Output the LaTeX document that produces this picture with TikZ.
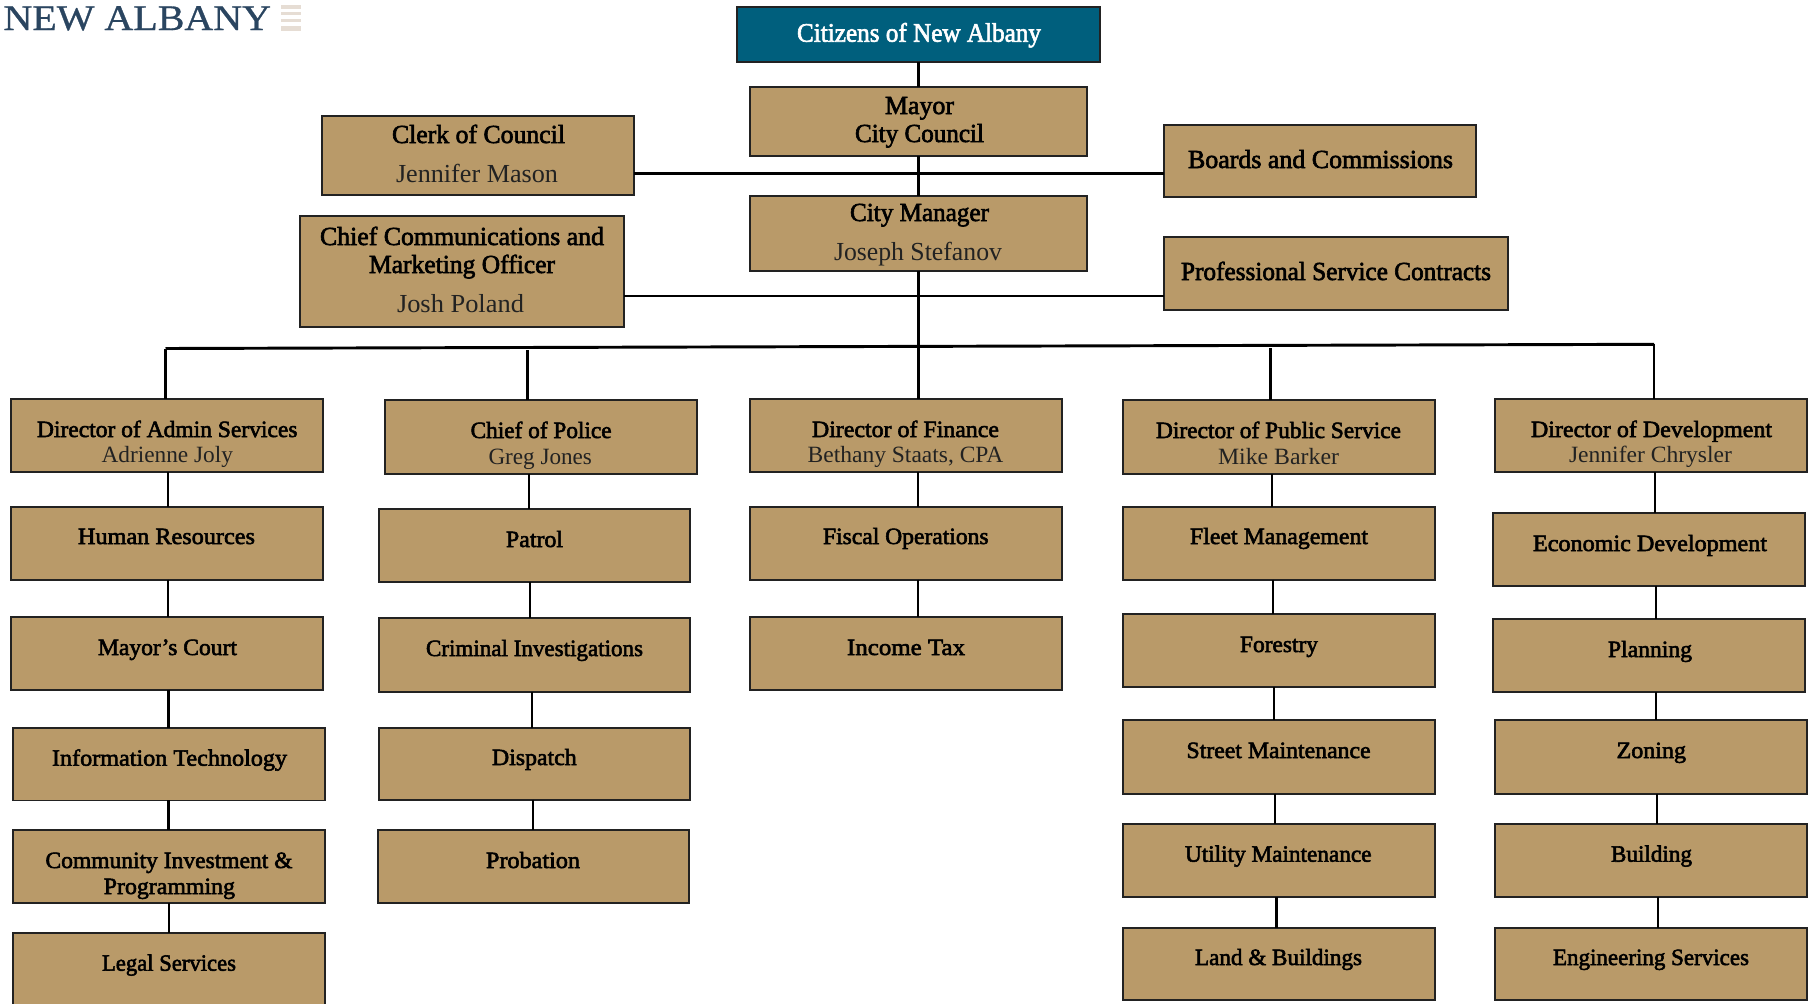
\documentclass[tikz,border=0pt]{standalone}
\usepackage{fontspec}
\usepackage{graphicx}
\setmainfont{Liberation Serif}
\newfontfamily\fatserif[FakeBold=2.4]{Liberation Serif}
\newfontfamily\logoserif[FakeBold=0.8]{Liberation Serif}
\definecolor{tan}{HTML}{B99A69}
\definecolor{teal}{HTML}{005F7D}
\definecolor{edge}{HTML}{222222}
\definecolor{navy}{HTML}{2A4560}
\definecolor{stripe}{HTML}{E6DDD4}
\tikzset{
  x=0.75pt,y=-0.75pt,
  orgbox/.style={draw=edge,fill=tan,line width=1.4pt,inner sep=0pt,outer sep=0pt,rectangle},
  topbox/.style={orgbox,fill=teal},
  plainbox/.style={inner sep=0pt,outer sep=0pt,rectangle},
  link/.style={draw=black,line width=1.6pt},
  heavy/.style={draw=black,line width=2.2pt}
}
% box by its corners in pixels
\newcommand\bx[7][orgbox]{%
  \pgfmathsetmacro\bcx{(#3+#5)/2}%
  \pgfmathsetmacro\bcy{(#4+#6)/2}%
  \pgfmathsetmacro\bw{(#5-#3)*0.75-1.2}%
  \pgfmathsetmacro\bh{(#6-#4)*0.75-0.4}%
  \node[#1,minimum width=\bw pt,minimum height=\bh pt] (#2) at (\bcx,\bcy) {#7};}
% a line of text: left, right, baseline in pixels
\newcommand\Ln[4]{%
  \pgfmathsetmacro\tw{(#2-#1)*0.75}%
  \pgfmathsetmacro\tl{(#1-\bcx)*0.75}%
  \pgfmathsetmacro\tdy{(\bcy-#3)*0.75}%
  \smash{\makebox[0pt][l]{\hspace*{\tl pt}\raisebox{\tdy pt}{\resizebox{\tw pt}{\height}{#4}}}}}
\newcommand\Tb[1]{{\fontsize{17.5}{20}\fatserif\color{black}#1}}
\newcommand\Tt[1]{{\fontsize{19.5}{22}\fatserif\color{black}#1}}
\newcommand\Nb[1]{{\fontsize{17.5}{20}\selectfont\color{edge}#1}}
\newcommand\Nt[1]{{\fontsize{19.5}{22}\selectfont\color{edge}#1}}
% connector at a given x between two boxes
\newcommand\vlink[3]{\draw[link] (#1.south -| #3,0) -- (#2.north -| #3,0);}
\begin{document}
\begin{tikzpicture}
\useasboundingbox (0,0) rectangle (1816,1003);
\clip (0,0) rectangle (1816,1003);
% logo
\bx[plainbox]{logo}{3}{6}{271}{30}{\Ln{3.5}{271}{30}{{\fontsize{27}{30}\logoserif\color{navy}NEW ALBANY}}}
\fill[stripe] (281,5) rectangle (301,8.5);
\fill[stripe] (281,11.5) rectangle (301,15);
\fill[stripe] (281,18.5) rectangle (301,22);
\fill[stripe] (281,26) rectangle (301,30.5);
% top
\bx[topbox]{citizens}{736}{7}{1101}{62}{\Ln{797}{1041}{41.7}{{\fontsize{20}{22}\fatserif\color{white}Citizens of New Albany}}}
\bx{mayor}{749}{87}{1088}{156.5}{\Ln{885}{954}{114}{\Tt{Mayor}}\Ln{855}{984}{142}{\Tt{City Council}}}
\bx{manager}{749}{196}{1088}{271}{\Ln{850}{989}{221}{\Tt{City Manager}}\Ln{834}{1002}{260}{\Nt{Joseph Stefanov}}}
\bx{boards}{1163}{125}{1477}{197}{\Ln{1188}{1453}{168}{\Tt{Boards and Commissions}}}
\bx{contracts}{1163}{237}{1509}{310}{\Ln{1181}{1491}{280}{\Tt{Professional Service Contracts}}}
\bx{clerk}{321}{116}{635}{195}{\Ln{392}{565}{143}{\Tt{Clerk of Council}}\Ln{396}{558}{182}{\Nt{Jennifer Mason}}}
\bx{comms}{299}{216}{625}{327}{\Ln{320}{604}{245}{\Tt{Chief Communications and}}\Ln{369}{555}{273}{\Tt{Marketing Officer}}\Ln{397}{524}{312}{\Nt{Josh Poland}}}
% column 1
\bx{admin}{10.5}{399}{324}{472}{\Ln{37}{297.5}{437}{\Tb{Director of Admin Services}}\Ln{101.5}{233}{462}{\Nb{Adrienne Joly}}}
\bx{hr}{10.5}{507}{324}{580}{\Ln{78}{255}{544}{\Tb{Human Resources}}}
\bx{court}{10.5}{617}{324}{690}{\Ln{98}{237}{655}{\Tb{Mayor’s Court}}}
\bx{it}{12.4}{727.7}{325.5}{800.7}{\Ln{52}{287}{765.7}{\Tb{Information Technology}}}
\bx{invest}{12.4}{830}{325.5}{903}{\Ln{45.5}{292.5}{868}{\Tb{Community Investment \&}}\Ln{103.8}{235}{894}{\Tb{Programming}}}
\bx{legal}{12.4}{932.7}{325.5}{1015}{\Ln{102}{236}{970.7}{\Tb{Legal Services}}}
% column 2
\bx{police}{384}{400}{697.5}{474}{\Ln{470.6}{611.6}{438}{\Tb{Chief of Police}}\Ln{488.5}{592}{464}{\Nb{Greg Jones}}}
\bx{patrol}{378}{509}{691}{582}{\Ln{506}{563}{547}{\Tb{Patrol}}}
\bx{criminal}{378}{618}{691}{692}{\Ln{426}{643}{656}{\Tb{Criminal Investigations}}}
\bx{dispatch}{378}{727.7}{691}{800}{\Ln{492}{576.7}{765}{\Tb{Dispatch}}}
\bx{probation}{377}{830}{690}{903}{\Ln{486}{580}{868}{\Tb{Probation}}}
% column 3
\bx{finance}{749}{399}{1062.5}{472}{\Ln{812}{999}{437}{\Tb{Director of Finance}}\Ln{807.7}{1003.3}{462}{\Nb{Bethany Staats, CPA}}}
\bx{fiscal}{749}{507}{1062.5}{580}{\Ln{823}{988.6}{544}{\Tb{Fiscal Operations}}}
\bx{income}{749}{617}{1062.5}{690}{\Ln{847}{965}{655}{\Tb{Income Tax}}}
% column 4
\bx{public}{1122}{400}{1436}{474}{\Ln{1156}{1401}{438}{\Tb{Director of Public Service}}\Ln{1218}{1339}{464}{\Nb{Mike Barker}}}
\bx{fleet}{1122}{507}{1436}{580}{\Ln{1190}{1368}{544}{\Tb{Fleet Management}}}
\bx{forestry}{1122}{614}{1436}{687}{\Ln{1240}{1318}{652}{\Tb{Forestry}}}
\bx{street}{1122}{720}{1436}{794}{\Ln{1186.5}{1370.6}{758}{\Tb{Street Maintenance}}}
\bx{utility}{1122}{824}{1436}{897}{\Ln{1185}{1371.5}{861.7}{\Tb{Utility Maintenance}}}
\bx{land}{1122}{927.7}{1436}{1000}{\Ln{1195}{1362}{965}{\Tb{Land \& Buildings}}}
% column 5
\bx{develop}{1494.5}{399}{1808}{472}{\Ln{1531}{1772}{437}{\Tb{Director of Development}}\Ln{1569}{1732}{462}{\Nb{Jennifer Chrysler}}}
\bx{economic}{1492}{513}{1806}{586}{\Ln{1533}{1767}{551}{\Tb{Economic Development}}}
\bx{planning}{1492}{619}{1806}{692}{\Ln{1608}{1692}{657}{\Tb{Planning}}}
\bx{zoning}{1494.5}{720}{1808}{794}{\Ln{1616.6}{1686}{758}{\Tb{Zoning}}}
\bx{building}{1494.5}{824}{1808}{897}{\Ln{1611}{1692}{861.7}{\Tb{Building}}}
\bx{engineering}{1494.5}{927.7}{1808}{1000}{\Ln{1553}{1749}{965}{\Tb{Engineering Services}}}
% bus
\coordinate (busL) at (165.5,348.5);
\coordinate (busR) at (1654,344.3);
\coordinate (busP) at (527.5,350);
\coordinate (busS) at (1270.5,348);
\coordinate (xM) at (918.7,0);
% connectors
\draw[heavy] (citizens.south -| xM) -- (mayor.north -| xM);
\draw[heavy] (mayor.south -| xM) -- (manager.north -| xM);
\draw[heavy] (manager.south -| xM) -- (finance.north -| xM);
\draw[heavy] (clerk.east |- 0,173.5) -- (boards.west |- 0,173.5);
\draw[heavy] (comms.east |- 0,296) -- (contracts.west |- 0,296);
\draw[heavy] (busL) -- (busR);
\draw[link] (busL) -- (admin.north -| busL);
\draw[link] (busR) -- (develop.north -| busR);
\draw[link] (busP) -- (police.north -| busP);
\draw[link] (busS) -- (public.north -| busS);
\vlink{admin}{hr}{167.6}
\vlink{hr}{court}{168}
\vlink{court}{it}{168.5}
\vlink{it}{invest}{168.5}
\vlink{invest}{legal}{169}
\vlink{police}{patrol}{529}
\vlink{patrol}{criminal}{530}
\vlink{criminal}{dispatch}{531.7}
\vlink{dispatch}{probation}{533}
\vlink{finance}{fiscal}{918.3}
\vlink{fiscal}{income}{918.3}
\vlink{public}{fleet}{1272}
\vlink{fleet}{forestry}{1273}
\vlink{forestry}{street}{1274}
\vlink{street}{utility}{1275}
\vlink{utility}{land}{1276.5}
\vlink{develop}{economic}{1655}
\vlink{economic}{planning}{1656}
\vlink{planning}{zoning}{1656}
\vlink{zoning}{building}{1657}
\vlink{building}{engineering}{1658}
\end{tikzpicture}
\end{document}
